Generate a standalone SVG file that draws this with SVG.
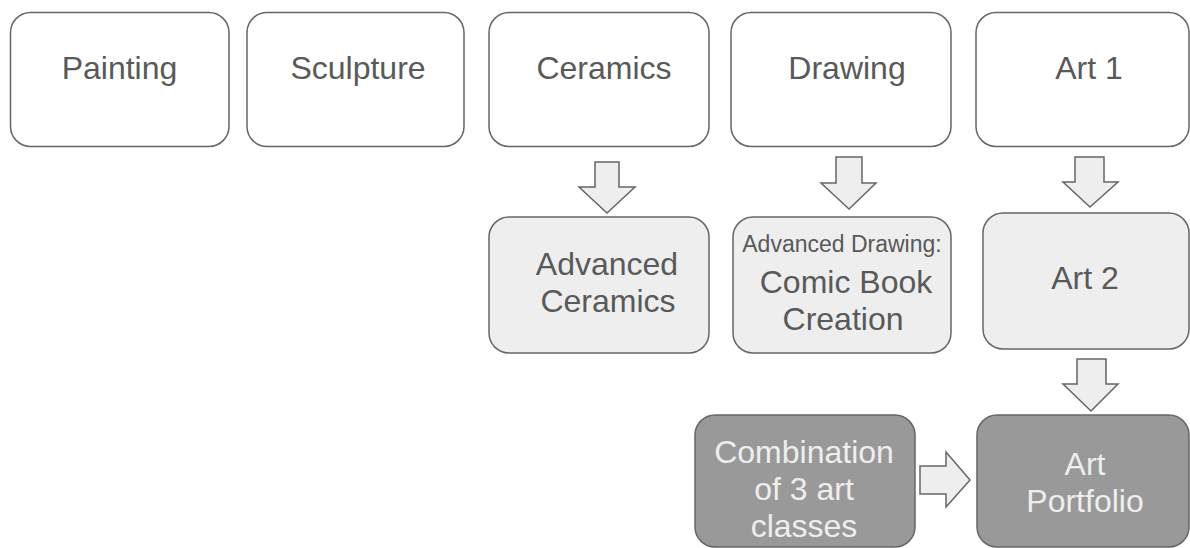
<svg xmlns="http://www.w3.org/2000/svg" width="1190" height="548" viewBox="0 0 1190 548">
<style>
.box{stroke:#666666;stroke-width:1.5}
.w{fill:#ffffff}
.l{fill:#eeeeee}
.d{fill:#999999}
.t{font-family:"Liberation Sans",Arial,sans-serif;font-size:32px;fill:#595959;text-anchor:middle}
.td{fill:#eeeeee}
.s{font-size:23px}
.arr{fill:#eeeeee;stroke:#666666;stroke-width:1.5;stroke-linejoin:miter}
</style>
<rect width="1190" height="548" fill="#ffffff"/>
<g id="painting"><rect class="box w" x="10.5" y="12.5" width="218.5" height="134" rx="20"/><text class="t" x="119.5" y="79">Painting</text></g>
<g id="sculpture"><rect class="box w" x="247" y="12.5" width="217" height="134" rx="20"/><text class="t" x="358" y="79">Sculpture</text></g>
<g id="ceramics"><rect class="box w" x="489" y="12.5" width="220" height="134" rx="20"/><text class="t" x="604" y="79">Ceramics</text></g>
<g id="drawing"><rect class="box w" x="731" y="12.5" width="220" height="134" rx="20"/><text class="t" x="847" y="79">Drawing</text></g>
<g id="art1"><rect class="box w" x="976" y="12.5" width="213" height="134" rx="20"/><text class="t" x="1089" y="79">Art 1</text></g>
<g id="advceramics"><rect class="box l" x="489" y="217" width="220" height="136" rx="20"/><text class="t" x="607" y="275">Advanced</text><text class="t" x="608" y="312">Ceramics</text></g>
<g id="advdrawing"><rect class="box l" x="733" y="217" width="218" height="136" rx="20"/><text class="t s" x="842" y="252">Advanced Drawing:</text><text class="t" x="846" y="293">Comic Book</text><text class="t" x="843" y="330">Creation</text></g>
<g id="art2"><rect class="box l" x="983" y="213" width="206" height="136" rx="20"/><text class="t" x="1085" y="289">Art 2</text></g>
<g id="combination"><rect class="box d" x="695" y="415" width="220" height="132" rx="20"/><text class="t td" x="804" y="463">Combination</text><text class="t td" x="804" y="500">of 3 art</text><text class="t td" x="804" y="537">classes</text></g>
<g id="portfolio"><rect class="box d" x="977" y="415" width="212" height="132" rx="20"/><text class="t td" x="1085" y="475">Art</text><text class="t td" x="1085" y="512">Portfolio</text></g>
<g id="connectors">
<polygon class="arr" points="595,162 619,162 619,187 635,187 607,213 579,187 595,187"/>
<polygon class="arr" points="836,157 862,157 862,183 876,183 849,209 821,183 836,183"/>
<polygon class="arr" points="1075,157 1104,157 1104,182 1118,182 1090,207 1063,182 1075,182"/>
<polygon class="arr" points="1077,359 1106,359 1106,384 1118,384 1091,411 1063,384 1077,384"/>
<polygon class="arr" points="920,466 946,466 946,452 970,480 946,507 946,494 920,494"/>
</g>
</svg>
